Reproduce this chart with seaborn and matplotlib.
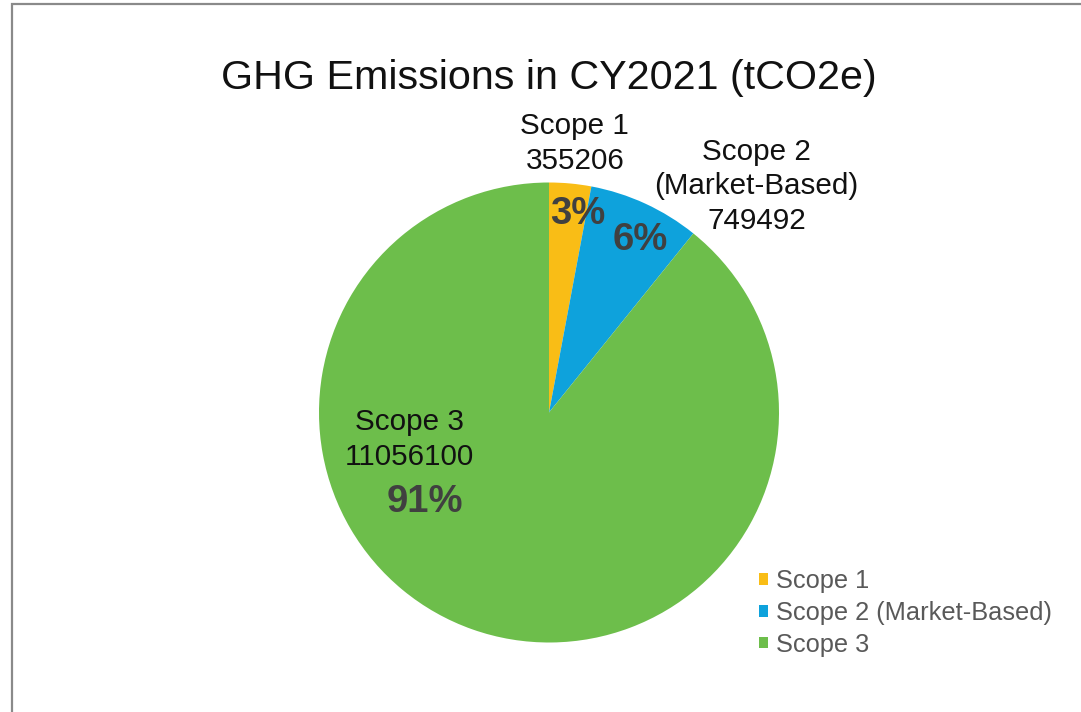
import numpy as np
import matplotlib
matplotlib.use("Agg")
import matplotlib.pyplot as plt
from matplotlib.patches import Rectangle, Patch
import seaborn as sns

# ---- data ----
categories = ["Scope 1", "Scope 2 (Market-Based)", "Scope 3"]
label_names = ["Scope 1", "Scope 2\n(Market-Based)", "Scope 3"]
values = [355206, 749492, 11056100]          # printed data labels
pct_labels = ["3%", "6%", "91%"]              # printed percentage labels
slice_shares = [2.95, 7.85, 89.2]             # slice sizes as drawn in the picture (%)
colors = ["#F9BD16", "#0EA2DC", "#6DBE4B"]
title = "GHG Emissions in CY2021 (tCO2e)"

# ---- layout (radius, angle clockwise from top in degrees) ----
name_pos = [(1.175, 5.5), (1.335, 42.5), (0.62, 259.0)]
pct_pos = [(0.87, 8.3), (0.85, 27.8), (0.665, 234.0)]

sns.set_theme(style="white")
plt.rcParams["font.family"] = ["Liberation Sans", "DejaVu Sans"]

fig = plt.figure(figsize=(10.81, 7.12), dpi=100)
ax = fig.add_axes([319 / 1081, 69.5 / 712, 460 / 1081, 460 / 712])

ax.pie(slice_shares, colors=colors, startangle=90, counterclock=False, radius=1.0,
       wedgeprops=dict(linewidth=0))
ax.set_xlim(-1, 1)
ax.set_ylim(-1, 1)
ax.set_aspect("equal")
ax.axis("off")

for name, v, pl, (rn, an), (rp, ap) in zip(label_names, values, pct_labels, name_pos, pct_pos):
    th = np.deg2rad(an)
    ax.text(rn * np.sin(th), rn * np.cos(th), f"{name}\n{v}", ha="center", va="center",
            fontsize=21.3, color="#111111", linespacing=1.3, clip_on=False)
    th = np.deg2rad(ap)
    ax.text(rp * np.sin(th), rp * np.cos(th), pl, ha="center",
            va="center", fontsize=27.5, fontweight="bold", color="#404040", clip_on=False)

fig.text(549 / 1081, 1 - 78 / 712, title, ha="center", va="center", fontsize=29.7,
         color="#111111")

handles = [Patch(facecolor=c, edgecolor="none") for c in colors]
leg = fig.legend(handles, categories, loc="center left",
                 bbox_to_anchor=(736 / 1081, 1 - 613 / 712), frameon=False,
                 fontsize=18.3, labelcolor="#595959", handlelength=0.34,
                 handleheight=0.34, handletextpad=0.33, labelspacing=0.3)

# outer frame
fig.patches.append(Rectangle((11.5 / 1081, -0.2), 1.5, 0.2 + 1 - 4 / 712,
                             transform=fig.transFigure, fill=False,
                             edgecolor="#8a8a8a", linewidth=1.6))

fig.savefig("out.png", dpi=100, facecolor="white")
